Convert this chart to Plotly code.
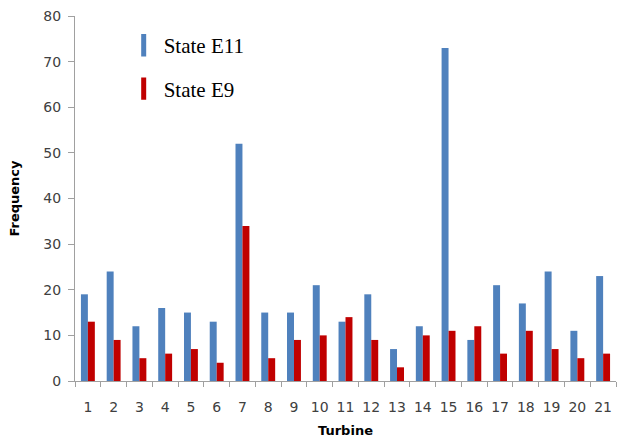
import plotly.graph_objects as go

turbines = [str(i) for i in range(1, 22)]
state_e11 = [19, 24, 12, 16, 15, 13, 52, 15, 15, 21, 13, 19, 7, 12, 73, 9, 21, 17, 24, 11, 23]
state_e9 = [13, 9, 5, 6, 7, 4, 34, 5, 9, 10, 14, 9, 3, 10, 11, 12, 6, 11, 7, 5, 6]

blue = "#4F81BD"
red = "#C00000"
tick_font = dict(family="DejaVu Sans", size=14, color="#404040")
title_font = dict(family="DejaVu Sans", size=13, color="black")

fig = go.Figure()
fig.add_trace(go.Bar(x=turbines, y=state_e11, marker_color=blue, showlegend=False,
                     marker_line_width=0))
fig.add_trace(go.Bar(x=turbines, y=state_e9, marker_color=red, showlegend=False,
                     marker_line_width=0))

# thin vertical legend keys, each in its own group for wider spacing
for name, color in [("State E11", blue), ("State E9", red)]:
    fig.add_trace(go.Scatter(x=[None], y=[None], mode="markers", name=name,
                             legendgroup=name,
                             marker=dict(symbol="line-ns", size=17,
                                         line=dict(width=5, color=color))))

fig.update_layout(
    width=617, height=438,
    margin=dict(l=75, r=1, t=16, b=57),
    plot_bgcolor="white", paper_bgcolor="white",
    barmode="group", bargap=0.46, bargroupgap=0,
    legend=dict(x=0.09, y=0.975, xanchor="left", yanchor="top",
                font=dict(family="Liberation Serif", size=21, color="black"),
                tracegroupgap=13, itemwidth=30, bgcolor="rgba(0,0,0,0)"),
    xaxis=dict(type="category", showline=True, linecolor="#A0A0A0", linewidth=1,
               ticks="outside", tickson="boundaries", ticklen=5, tickcolor="#A0A0A0",
               tickfont=tick_font, tickangle=0, ticklabelstandoff=13, showgrid=False,
               title=dict(text="<b>Turbine</b>", font=title_font, standoff=12)),
    yaxis=dict(range=[0, 80], dtick=10, showline=True, linecolor="#A0A0A0", linewidth=1,
               ticks="outside", ticklen=6, tickcolor="#A0A0A0", tickfont=tick_font,
               ticklabelstandoff=4, showgrid=False, zeroline=False,
               title=dict(text="<b>Frequency</b>", font=title_font, standoff=20)),
)

fig.write_html("out.html")
